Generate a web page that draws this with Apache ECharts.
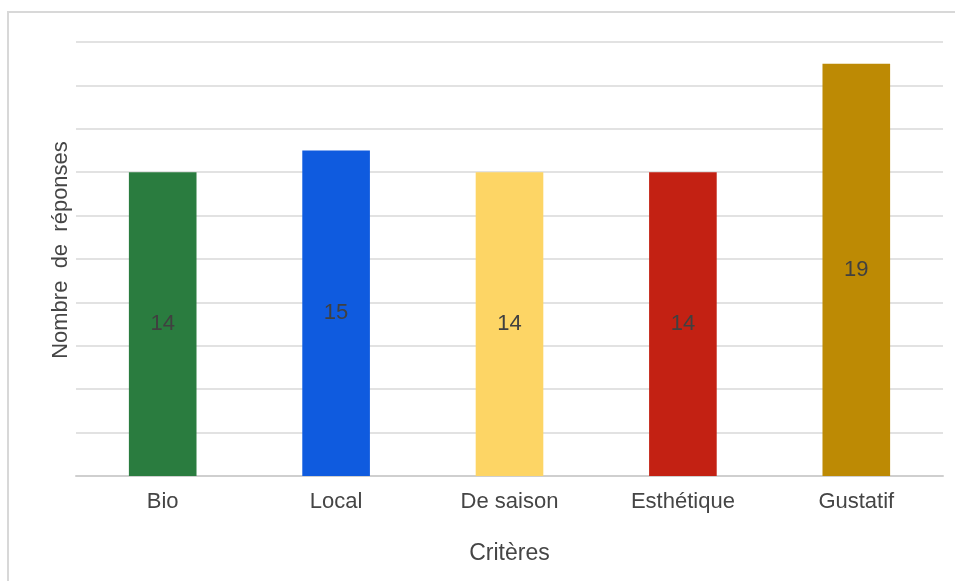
<!DOCTYPE html>
<html>
<head>
<meta charset="utf-8">
<script src="https://cdn.jsdelivr.net/npm/echarts@6/dist/echarts.min.js"></script>
<style>
  html, body { margin: 0; padding: 0; background: #fff; }
  #chart { width: 955px; height: 581px; }
</style>
</head>
<body>
<div id="chart"></div>
<script>
// Critères de choix et nombre de réponses
const categories = ['Bio', 'Local', 'De saison', 'Esthétique', 'Gustatif'];
const reponses = [14, 15, 14, 14, 19];
const barColors = ['#2a7c3f', '#0f5bdf', '#fdd565', '#c32113', '#bd8a04'];

const FONT = '"Liberation Sans", Arial, sans-serif';
const TEXT = '#454545';

const chart = echarts.init(document.getElementById('chart'), null, { renderer: 'canvas' });

chart.setOption({
  animation: false,
  backgroundColor: '#ffffff',
  graphic: [{
    type: 'rect',
    shape: { x: 8, y: 12, width: 1000, height: 700 },
    style: { fill: 'none', stroke: '#d8d8d8', lineWidth: 2 },
    silent: true,
    z: -1
  }],
  grid: { left: 76, right: 12, top: 42, bottom: 105 },
  xAxis: {
    type: 'category',
    data: categories,
    name: 'Critères',
    nameLocation: 'middle',
    nameGap: 66,
    nameTextStyle: { fontFamily: FONT, fontSize: 23, color: TEXT },
    axisLine: { lineStyle: { color: '#cfcfcf', width: 2 } },
    axisTick: { show: false },
    axisLabel: { fontFamily: FONT, fontSize: 22, color: TEXT, margin: 15 }
  },
  yAxis: {
    type: 'value',
    min: 0,
    max: 20,
    interval: 2,
    name: 'Nombre  de  réponses',
    nameLocation: 'middle',
    nameGap: 4,
    nameTextStyle: { fontFamily: FONT, fontSize: 22, color: TEXT, padding: [0, 0, 0, 18] },
    axisLine: { show: false },
    axisTick: { show: false },
    axisLabel: { show: false },
    splitLine: { lineStyle: { color: '#e2e2e2', width: 2 } }
  },
  series: [{
    type: 'bar',
    barWidth: '39%',
    data: reponses.map((v, i) => ({ value: v, itemStyle: { color: barColors[i] } })),
    label: {
      show: true,
      position: 'inside',
      fontFamily: FONT,
      fontSize: 22,
      color: '#404040'
    }
  }]
});
</script>
</body>
</html>
